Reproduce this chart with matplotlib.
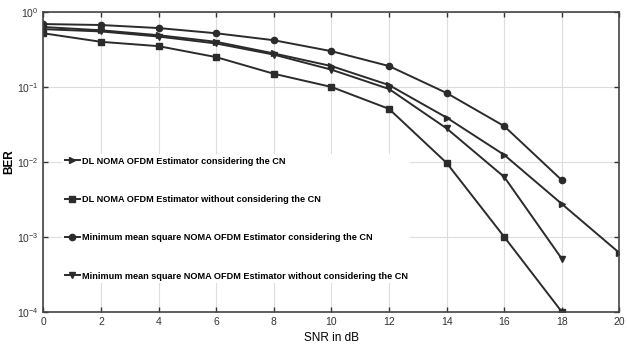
import numpy as np
import matplotlib
matplotlib.use("Agg")
import matplotlib.pyplot as plt

snr = [0, 2, 4, 6, 8, 10, 12, 14, 16, 18, 20]
snr18 = snr[:10]

dl_cn = [0.63, 0.57, 0.49, 0.40, 0.28, 0.19, 0.106, 0.039, 0.0124, 0.00275, 0.00061]
dl_no_cn = [0.52, 0.40, 0.35, 0.25, 0.15, 0.10, 0.051, 0.0097, 0.0010, 0.0001]
mmse_cn = [0.69, 0.67, 0.61, 0.52, 0.42, 0.30, 0.19, 0.083, 0.030, 0.0057]
mmse_no_cn = [0.59, 0.55, 0.47, 0.38, 0.27, 0.17, 0.094, 0.028, 0.0063, 0.00051]

labels = [
    "DL NOMA OFDM Estimator considering the CN",
    "DL NOMA OFDM Estimator without considering the CN",
    "Minimum mean square NOMA OFDM Estimator considering the CN",
    "Minimum mean square NOMA OFDM Estimator without considering the CN",
]

plt.rcParams["font.family"] = ["Liberation Sans", "DejaVu Sans"]

fig, ax = plt.subplots(figsize=(6.27, 3.52), dpi=100)
fig.subplots_adjust(left=0.069, right=0.988, top=0.966, bottom=0.114)

c = "#2b2b2b"
ax.semilogy(snr, dl_cn, color=c, lw=1.4, marker=">", ms=5, label=labels[0])
ax.semilogy(snr18, dl_no_cn, color=c, lw=1.4, marker="s", ms=4.5, label=labels[1])
ax.semilogy(snr18, mmse_cn, color=c, lw=1.4, marker="o", ms=4.5, label=labels[2])
ax.semilogy(snr18, mmse_no_cn, color=c, lw=1.4, marker="v", ms=5, label=labels[3])

ax.set_xlim(0, 20)
ax.set_ylim(1e-4, 1)
ax.set_xticks(snr)
ax.set_yticks([1e-4, 1e-3, 1e-2, 1e-1, 1])
ax.minorticks_off()
ax.grid(True, which="major", color="#dddddd", lw=0.8)
ax.tick_params(direction="in", top=True, right=True, labelsize=7.5, width=1, colors="#333333")
for s in ax.spines.values():
    s.set_color("#444444")
    s.set_linewidth(1.2)

ax.set_xlabel("SNR in dB", fontsize=8.5, labelpad=4)
ax.set_ylabel("BER", fontsize=8.5, fontweight="bold", labelpad=1)

leg = ax.legend(loc="lower left", bbox_to_anchor=(0.025, 0.08), frameon=True,
                prop={"size": 6.6, "weight": "bold"}, labelspacing=3.2,
                handlelength=1.6, handletextpad=0.2, borderpad=0.3)
leg.get_frame().set_edgecolor("none")
leg.get_frame().set_facecolor("white")
leg.get_frame().set_alpha(1)

fig.savefig("out.png", dpi=100)
